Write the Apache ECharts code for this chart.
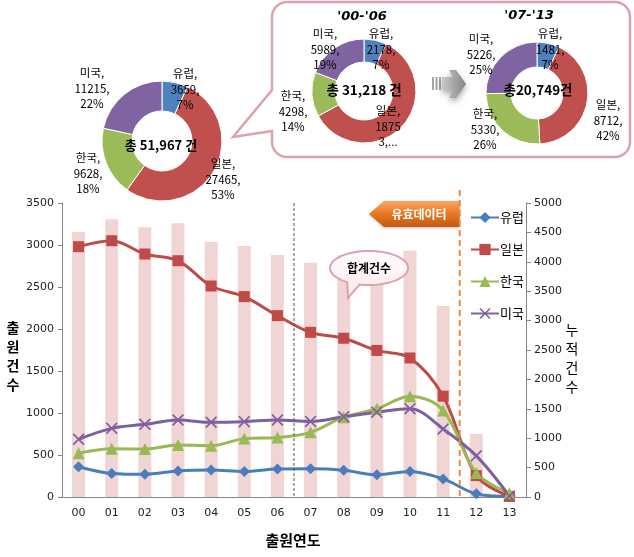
<!DOCTYPE html>
<html><head><meta charset="utf-8">
<script src="https://cdn.jsdelivr.net/npm/echarts@6/dist/echarts.min.js"></script>
<style>html,body{margin:0;padding:0;background:#fff}#c{width:634px;height:557px}</style>
</head><body><div id="c"></div>
<script>
// ---- data ----
const years = ['00','01','02','03','04','05','06','07','08','09','10','11','12','13'];
const europe = [360,280,270,310,320,305,333,335,318,265,305,215,38,5];
const japan  = [2980,3051,2893,2813,2512,2385,2159,1960,1890,1745,1655,1200,255,7];
const korea  = [520,575,570,620,610,695,708,770,950,1050,1200,1030,285,45];
const usa    = [687,817,865,917,889,897,917,900,955,1010,1050,810,490,11];
const totals = [4507,4723,4587,4655,4337,4269,4116,3985,4113,4070,4190,3248,1071,53];
const countries = ['유럽','일본','한국','미국'];
const pieAll = [3659,27465,9628,11215];
const pieAllPct = ['7%','53%','18%','22%'];
const pieA = [2178,18753,4298,5989];
const pieAPct = ['7%','60%','14%','19%'];
const pieB = [1481,8712,5330,5226];
const pieBPct = ['7%','42%','26%','25%'];
const totalAll = '총 51,967 건', totalA = '총 31,218 건', totalB = '총20,749건';
const periodA = "'00-'06", periodB = "'07-'13";

const FONT = '"Noto Sans CJK KR","Noto Sans",sans-serif';
const NUM = '"DejaVu Sans",Verdana,sans-serif';
const pieColors = ['#4f81bd','#c0504d','#9bbb59','#8064a2'];
const lineColors = ['#4a7ebb','#be4b48','#98b954','#7d60a0'];

function lin(x2, y2, stops) {
  return {type:'linear', x:0, y:0, x2, y2, colorStops:stops.map(s=>({offset:s[0], color:s[1]}))};
}

const chart = echarts.init(document.getElementById('c'));

function lineSeries(name, data, color, symbol, size) {
  return {type:'line', name, data, yAxisIndex:0, smooth:0.35, symbol, symbolSize:size, showAllSymbol:true,
    lineStyle:{color, width:3}, itemStyle:{color, borderColor:color, borderWidth:0}, z:5};
}
function pie(values, center, radius) {
  return {type:'pie', center, radius, startAngle:90, clockwise:true, silent:true,
    label:{show:false}, labelLine:{show:false}, itemStyle:{borderColor:'#fff', borderWidth:1}, z:3,
    data: countries.map((n,i)=>({name:n, value:values[i], itemStyle:{color:pieColors[i]}}))};
}
const xSym = 'path://M1,0L5,4L9,0L10,1L6,5L10,9L9,10L5,6L1,10L0,9L4,5L0,1Z';
const axisCol = '#868686';
const fmt = v => String(v);

chart.setOption({
  animation:false,
  backgroundColor:'#fff',
  grid:{left:62, right:108, top:203, bottom:60, containLabel:false, outerBoundsMode:'none'},
  legend:{orient:'vertical', left:465, top:206, itemWidth:28, itemHeight:14, itemGap:19,
    data:countries, textStyle:{fontFamily:FONT, fontSize:13, color:'#000', padding:[0,0,0,-4]}},
  xAxis:{type:'category', data:years, boundaryGap:true,
    axisLine:{lineStyle:{color:axisCol}}, axisTick:{length:5, lineStyle:{color:axisCol}},
    axisLabel:{fontFamily:NUM, fontSize:11, color:'#222', margin:11}},
  yAxis:[
    {type:'value', min:0, max:3500, interval:500, position:'left', splitLine:{show:false},
      axisLine:{show:true, lineStyle:{color:axisCol}}, axisTick:{show:true, length:4, lineStyle:{color:axisCol}},
      axisLabel:{fontFamily:NUM, fontSize:11, color:'#222', margin:8, formatter:fmt}},
    {type:'value', min:0, max:5000, interval:500, position:'right', splitLine:{show:false},
      axisLine:{show:true, lineStyle:{color:axisCol}}, axisTick:{show:true, length:5, lineStyle:{color:axisCol}},
      axisLabel:{fontFamily:NUM, fontSize:11, color:'#222', margin:8, formatter:fmt}}
  ],
  series:[
    {type:'bar', name:'합계', data:totals, yAxisIndex:1, barWidth:13, itemStyle:{color:'#f1d4d4'}, z:1},
    lineSeries('유럽', europe, lineColors[0], 'diamond', 11),
    lineSeries('일본', japan, lineColors[1], 'rect', 11),
    lineSeries('한국', korea, lineColors[2], 'triangle', 12),
    lineSeries('미국', usa, lineColors[3], xSym, 12),
    pie(pieAll, [162,141], [30,60]),
    pie(pieA, [364,91], [29,52]),
    pie(pieB, [537,93], [26,51])
  ]
});

const px = i => chart.convertToPixel({xAxisIndex:0}, years[i]);
const xDiv1 = (px(6)+px(7))/2, xDiv2 = (px(11)+px(12))/2;
const yTop = chart.convertToPixel({yAxisIndex:0}, 3500), yBot = chart.convertToPixel({yAxisIndex:0}, 0);

function txt(x, y, text, opt) {
  opt = opt || {};
  return {type:'text', x, y, z:100, style:Object.assign({text, fill:'#000', fontFamily:FONT, fontSize:11.5,
    align:'center', verticalAlign:'top', lineHeight:15.5}, opt)};
}
function lab(name, v, pct) { return name + ',\n' + v + ',\n' + pct; }
function arcPts(cx, cy, r, a0, a1) {
  const out = [];
  for (let k=0; k<=8; k++) { const a=(a0+(a1-a0)*k/8)*Math.PI/180; out.push([cx+r*Math.cos(a), cy+r*Math.sin(a)]); }
  return out;
}

const g = [];
// callout box (rounded rect with tail on the left)
const R = 15, L = 272, T = 2, Rt = 630, B = 157;
const boxPts = [].concat(
  arcPts(L+R, T+R, R, 180, 270),
  arcPts(Rt-R, T+R, R, 270, 360),
  arcPts(Rt-R, B-R, R, 0, 90),
  arcPts(L+R, B-R, R, 90, 180),
  [[L,131],[233,137],[L,90]]
);
g.push({type:'polygon', z:0, shape:{points:boxPts}, style:{fill:'#fff', stroke:'#dba3ab', lineWidth:2.5}});
// arrow between donuts
[432,435.5,439].forEach(x => g.push({type:'rect', z:1, shape:{x, y:77, width:2, height:13}, style:{fill:'#a6a6a6'}}));
g.push({type:'polygon', z:1, shape:{points:[[442,77],[453,77],[449,70],[456,70],[466,84],[456,98],[449,98],[453,90],[442,90]]},
  style:{fill:lin(1,0,[[0,'#c8c8c8'],[1,'#858585']]), shadowBlur:6, shadowColor:'rgba(0,0,0,0.35)', shadowOffsetY:3}});
// donut 1 labels
g.push(txt(185,66,lab(countries[0],pieAll[0],pieAllPct[0])));
g.push(txt(223,156,lab(countries[1],pieAll[1],pieAllPct[1])));
g.push(txt(88,150,lab(countries[2],pieAll[2],pieAllPct[2])));
g.push(txt(92,65,lab(countries[3],pieAll[3],pieAllPct[3])));
g.push(txt(161,145,totalAll,{fontWeight:'bold', fontSize:13, verticalAlign:'middle'}));
// donut 2
g.push(txt(362,17,periodA,{fontWeight:'bold', fontStyle:'italic', fontSize:13, verticalAlign:'middle', fontFamily:NUM}));
g.push(txt(381,26,lab(countries[0],pieA[0],pieAPct[0])));
g.push(txt(388,103,countries[1]+',\n'+String(pieA[1]).slice(0,4)+'\n'+String(pieA[1]).slice(4)+',...'));
g.push(txt(293,88,lab(countries[2],pieA[2],pieAPct[2])));
g.push(txt(325,26,lab(countries[3],pieA[3],pieAPct[3])));
g.push(txt(364,90,totalA,{fontWeight:'bold', fontSize:13.5, verticalAlign:'middle'}));
// donut 3
g.push(txt(529,16,periodB,{fontWeight:'bold', fontStyle:'italic', fontSize:13, verticalAlign:'middle', fontFamily:NUM}));
g.push(txt(550,26,lab(countries[0],pieB[0],pieBPct[0])));
g.push(txt(608,97,lab(countries[1],pieB[1],pieBPct[1])));
g.push(txt(485,106,lab(countries[2],pieB[2],pieBPct[2])));
g.push(txt(481,31,lab(countries[3],pieB[3],pieBPct[3])));
g.push(txt(538,90,totalB,{fontWeight:'bold', fontSize:13.5, verticalAlign:'middle'}));
// axis titles
g.push(txt(13,318,'출\n원\n건\n수',{fontWeight:'bold', fontSize:14, lineHeight:19}));
g.push(txt(572,320,'누\n적\n건\n수',{fontSize:14, lineHeight:19, backgroundColor:'#fff', padding:[0,2]}));
g.push(txt(293,540,'출원연도',{fontWeight:'bold', fontSize:15, verticalAlign:'middle'}));
// divider lines
g.push({type:'line', z:50, shape:{x1:xDiv1,y1:yTop,x2:xDiv1,y2:yBot}, style:{stroke:'#555', lineWidth:1, lineDash:[3,2]}});
// valid data label
g.push({type:'polygon', z:60, shape:{points:[[369,214],[384,201],[xDiv2,201],[xDiv2,227],[384,227]]},
  style:{fill:lin(0,1,[[0,'#f9a866'],[0.45,'#eb7a26'],[1,'#c2590f']]), shadowBlur:3, shadowColor:'rgba(0,0,0,0.25)', shadowOffsetY:1}});
g.push(txt(419,214,'유효데이터',{fill:'#fff', fontWeight:'bold', fontSize:12, verticalAlign:'middle'}));
g.push({type:'line', z:70, shape:{x1:xDiv2,y1:190,x2:xDiv2,y2:yBot}, style:{stroke:'#f0883a', lineWidth:2, lineDash:[6,4]}});
// 합계건수 bubble
const bub = []; const bcx=369, bcy=268, brx=39, bry=17;
for (let t=124; t<=466; t+=4) { const a=t*Math.PI/180; bub.push([bcx+brx*Math.cos(a), bcy+bry*Math.sin(a)]); }
bub.push([348,298]);
g.push({type:'polygon', z:80, shape:{points:bub},
  style:{fill:lin(0,1,[[0,'#ffffff'],[1,'#fbe6e8']]), stroke:'#dba3ab', lineWidth:2}});
g.push(txt(369,268,'합계건수',{fontWeight:'bold', fontSize:12, verticalAlign:'middle'}));

chart.setOption({graphic:{elements:g}});
</script></body></html>
